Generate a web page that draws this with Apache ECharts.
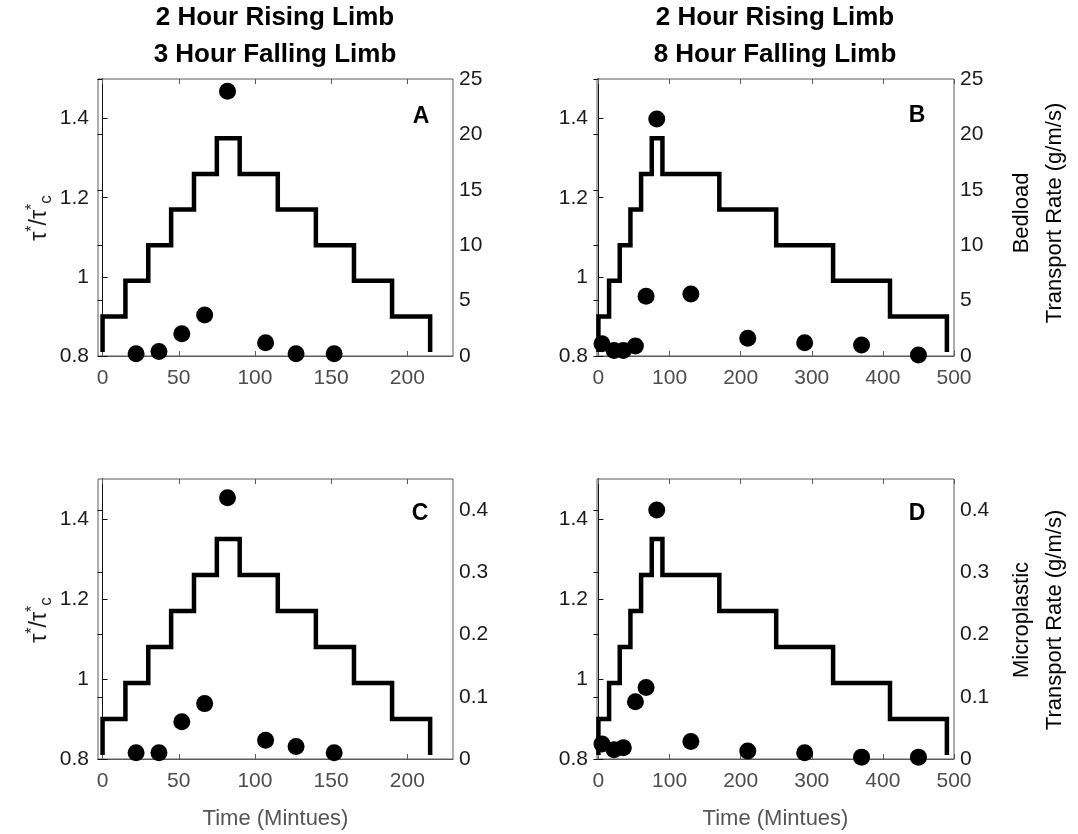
<!DOCTYPE html>
<html lang="en">
<head>
<meta charset="UTF-8">
<title>Transport rates</title>
<style>
  html, body { margin: 0; background: #fff; }
  #chart { width: 1078px; height: 834px; }
</style>
</head>
<body>
<div id="chart"></div>
<script src="https://cdn.jsdelivr.net/npm/echarts@6/dist/echarts.min.js"></script>
<script>
// shear stress steps (tau*/tau*c)
var levels = [0.9, 0.99, 1.08, 1.17, 1.26, 1.35, 1.26, 1.17, 1.08, 0.99, 0.9];
var baseLevel = 0.81;
var edgesShort = [0, 15, 30, 45, 60, 75, 90, 115, 140, 165, 190, 215];
var edgesLong = [0, 15, 30, 45, 60, 75, 90, 170, 250, 330, 410, 490];

// 3 hour falling limb
var timeShort = [22, 37, 52, 67, 82, 107, 127, 152];
var bedloadShort = [0.2, 0.4, 2.0, 3.7, 23.9, 1.2, 0.2, 0.2];
var microShort = [0.01, 0.01, 0.06, 0.089, 0.42, 0.03, 0.02, 0.01];

// 8 hour falling limb
var timeLong = [5, 22, 35, 52, 67, 82, 130, 210, 290, 370, 450];
var bedloadLong = [1.1, 0.5, 0.5, 0.9, 5.4, 21.4, 5.6, 1.6, 1.2, 1.0, 0.1];
var microLong = [0.024, 0.015, 0.018, 0.092, 0.115, 0.40, 0.028, 0.013, 0.01, 0.003, 0.003];

var xTicksShort = [0, 50, 100, 150, 200];
var xTicksLong = [0, 100, 200, 300, 400, 500];
var leftTicks = [0.8, 1, 1.2, 1.4];
var bedTicks = [0, 5, 10, 15, 20, 25];
var microTicks = [0, 0.1, 0.2, 0.3, 0.4];

var FONT = '"Liberation Sans", Arial, Helvetica, sans-serif';
var TICK = 21;

function stepData(edges) {
  var d = [[edges[0], baseLevel]];
  for (var i = 0; i < levels.length; i++) d.push([edges[i], levels[i]]);
  d.push([edges[edges.length - 1], baseLevel]);
  return d;
}
function pairs(xs, ys) {
  return xs.map(function (x, i) { return [x, ys[i]]; });
}

var panels = [
  { grid: { left: 98, top: 79, width: 355, height: 277 }, xmin: -3, xmax: 230, xticks: xTicksShort,
    edges: edgesShort, pts: pairs(timeShort, bedloadShort), rmax: 25, rticks: bedTicks, xname: '' },
  { grid: { left: 597, top: 79, width: 357, height: 277 }, xmin: -2, xmax: 500, xticks: xTicksLong,
    edges: edgesLong, pts: pairs(timeLong, bedloadLong), rmax: 25, rticks: bedTicks, xname: '' },
  { grid: { left: 98, top: 479, width: 355, height: 280 }, xmin: -3, xmax: 230, xticks: xTicksShort,
    edges: edgesShort, pts: pairs(timeShort, microShort), rmax: 0.45, rticks: microTicks, xname: 'Time (Mintues)' },
  { grid: { left: 597, top: 479, width: 357, height: 280 }, xmin: -2, xmax: 500, xticks: xTicksLong,
    edges: edgesLong, pts: pairs(timeLong, microLong), rmax: 0.45, rticks: microTicks, xname: 'Time (Mintues)' }
];

var grids = [], xAxes = [], yAxes = [], series = [];
var n = panels.length;

panels.forEach(function (p, i) {
  grids.push(Object.assign({ show: true, borderColor: '#5a5a5a', borderWidth: 1, backgroundColor: 'transparent' }, p.grid));
  // bottom axis
  xAxes.push({
    gridIndex: i, type: 'value', min: p.xmin, max: p.xmax,
    name: p.xname, nameLocation: 'middle', nameGap: 49,
    nameTextStyle: { fontFamily: FONT, fontSize: 22, color: '#555' },
    axisLine: { show: true, lineStyle: { color: '#5a5a5a', width: 1 } },
    axisTick: { inside: true, length: 5, customValues: p.xticks, lineStyle: { color: '#5a5a5a' } },
    axisLabel: { customValues: p.xticks, fontFamily: FONT, fontSize: TICK, color: '#4d4d4d', margin: 12 },
    splitLine: { show: false }
  });
  yAxes.push({
    gridIndex: i, type: 'value', min: 0.8, max: 1.5, position: 'left',
    axisLine: { show: true, lineStyle: { color: '#111', width: 1 } },
    axisTick: { inside: true, length: 5, customValues: leftTicks, lineStyle: { color: '#111' } },
    axisLabel: { customValues: leftTicks, fontFamily: FONT, fontSize: TICK, color: '#1a1a1a', margin: 9 },
    splitLine: { show: false }
  });
});

// top frame ticks and right axes
panels.forEach(function (p, i) {
  xAxes.push({
    gridIndex: i, type: 'value', min: p.xmin, max: p.xmax, position: 'top',
    axisLine: { show: false },
    axisTick: { inside: true, length: 5, customValues: p.xticks, lineStyle: { color: '#5a5a5a' } },
    axisLabel: { show: false },
    splitLine: { show: false }
  });
  yAxes.push({
    gridIndex: i, type: 'value', min: 0, max: p.rmax, position: 'right',
    axisLine: { show: true, lineStyle: { color: '#111', width: 1 } },
    axisTick: { inside: true, length: 5, customValues: p.rticks, lineStyle: { color: '#111' } },
    axisLabel: { customValues: p.rticks, fontFamily: FONT, fontSize: TICK, color: '#1a1a1a', margin: 6 },
    splitLine: { show: false }
  });
});

panels.forEach(function (p, i) {
  series.push({
    type: 'line', step: 'end', xAxisIndex: i, yAxisIndex: i,
    data: stepData(p.edges), showSymbol: false, silent: true,
    lineStyle: { color: '#000', width: 4.5, join: 'miter' }
  });
  series.push({
    type: 'scatter', xAxisIndex: i, yAxisIndex: i + n,
    data: p.pts, symbol: 'circle', symbolSize: 17, silent: true,
    itemStyle: { color: '#000', opacity: 1 }
  });
});

function label(x, y, text, font, extra) {
  return Object.assign({
    type: 'text', x: x, y: y, silent: true,
    style: { text: text, font: font, fill: '#000', textAlign: 'center', textVerticalAlign: 'middle',
             align: 'center', verticalAlign: 'middle' }
  }, extra || {});
}

var titleFont = 'bold 26px ' + FONT;
var letterFont = 'bold 23px ' + FONT;
var nameFont = '22px ' + FONT;

var tauRich = {
  t: { fontSize: 23, fontFamily: FONT, fill: '#1a1a1a', lineHeight: 30, verticalAlign: 'middle' },
  s: { fontSize: 16, fontFamily: FONT, fill: '#1a1a1a', lineHeight: 30, verticalAlign: 'top' },
  c: { fontSize: 17, fontFamily: FONT, fill: '#1a1a1a', lineHeight: 30, verticalAlign: 'bottom' }
};
var tauText = '{t|τ}{s|*}{t|/τ}{s|*}{c|c}';

function tauLabel(y) {
  return {
    type: 'text', x: 40, y: y, rotation: Math.PI / 2, silent: true,
    style: { text: tauText, rich: tauRich, textAlign: 'center', textVerticalAlign: 'middle',
             align: 'center', verticalAlign: 'middle' }
  };
}

var graphics = [
  label(275, 18, '2 Hour Rising Limb', titleFont),
  label(275, 55, '3 Hour Falling Limb', titleFont),
  label(775, 18, '2 Hour Rising Limb', titleFont),
  label(775, 55, '8 Hour Falling Limb', titleFont),
  label(421, 117, 'A', letterFont),
  label(917, 116, 'B', letterFont),
  label(420, 514, 'C', letterFont),
  label(917, 514, 'D', letterFont),
  tauLabel(218),
  tauLabel(620),
  label(1022, 213, 'Bedload', nameFont, { rotation: Math.PI / 2 }),
  label(1055, 213, 'Transport Rate (g/m/s)', nameFont, { rotation: Math.PI / 2 }),
  label(1022, 620, 'Microplastic', nameFont, { rotation: Math.PI / 2 }),
  label(1055, 620, 'Transport Rate (g/m/s)', nameFont, { rotation: Math.PI / 2 })
];

var chart = echarts.init(document.getElementById('chart'), null, { renderer: 'canvas' });
chart.setOption({
  animation: false,
  backgroundColor: '#fff',
  grid: grids,
  xAxis: xAxes,
  yAxis: yAxes,
  series: series,
  graphic: graphics
});
</script>
</body>
</html>
